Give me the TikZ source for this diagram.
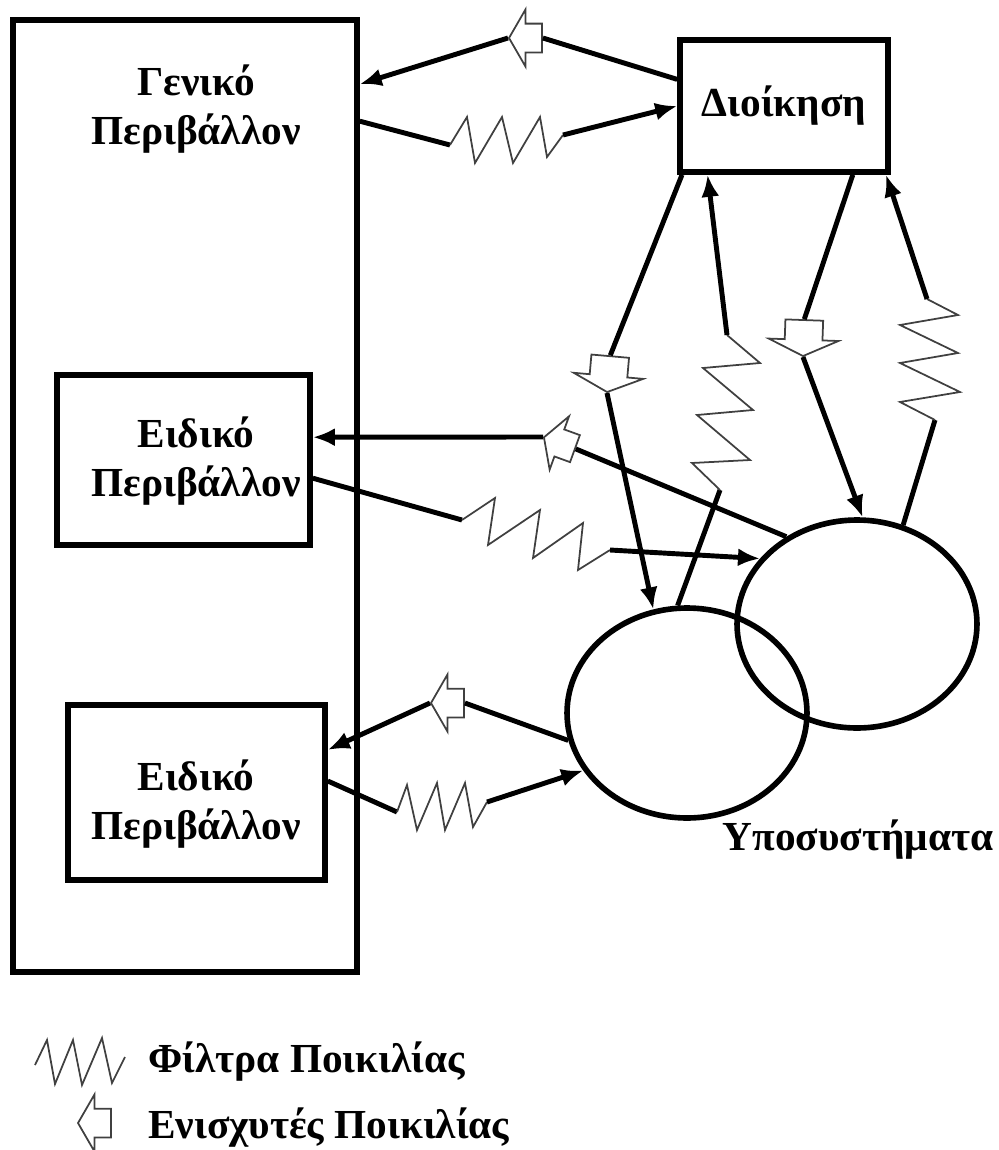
\documentclass[tikz,border=0pt]{standalone}
\usepackage{fontspec}
\setmainfont{Liberation Serif}
\usetikzlibrary{arrows.meta,shapes.geometric,shapes.arrows}

\tikzstyle{box}=[draw,rectangle,line width=3.2pt,inner sep=0pt]
\tikzstyle{subsys}=[draw,ellipse,line width=3.2pt,inner sep=0pt]
\tikzstyle{txt}=[font=\bfseries\fontsize{23.5}{27.5}\selectfont,align=center,inner sep=0pt]
\tikzstyle{link}=[draw,line width=2.8pt]
\tikzstyle{arr}=[-{Latex[length=4.4mm,width=3.6mm]}]
\tikzstyle{amp}=[single arrow,draw=black!75,line width=1pt,inner xsep=0pt,inner ysep=0.27cm,minimum height=0.66cm,single arrow head extend=0.28cm,single arrow tip angle=120]
\tikzstyle{bigamp}=[amp,inner ysep=0.36cm,minimum height=0.72cm,single arrow head extend=0.32cm,single arrow tip angle=130]
\tikzstyle{filter}=[draw=black!75,line width=1pt,line join=miter]

\begin{document}
\begin{tikzpicture}[x=0.02cm,y=-0.02cm]
    \useasboundingbox (0,0) rectangle (998,1150);
    % boxes and the two subsystems
    \node[box,minimum width=6.88cm,minimum height=19.04cm] (gen) at (185,496) {};
    \node[box,minimum width=5.06cm,minimum height=3.4cm] (eid1) at (183.5,460) {};
    \node[box,minimum width=5.14cm,minimum height=3.5cm] (eid2) at (196.5,792.5) {};
    \node[box,txt,minimum width=4.16cm,minimum height=2.64cm] (dio) at (784,106) {Διοίκηση};
    \node[subsys,minimum width=4.8cm,minimum height=4.16cm] (sub2) at (857,624) {};
    \node[subsys,minimum width=4.8cm,minimum height=4.2cm] (sub1) at (687,713) {};
    \node[txt] (gentxt) at (196,109) {Γενικό\\Περιβάλλον};
    \node[txt] (eid1txt) at (196,461) {Ειδικό\\Περιβάλλον};
    \node[txt] (eid2txt) at (196,804) {Ειδικό\\Περιβάλλον};
    \node[txt] (subtxt) at (858,840) {Υποσυστήματα};

    % amplifiers
    \node[amp,anchor=tip,rotate=180] (ampTop) at (508,38) {};
    \node[amp,anchor=tip,rotate=160] (ampMid) at (543,437) {};
    \node[amp,anchor=tip,rotate=180] (ampLow) at (430,703) {};
    \node[bigamp,anchor=tip,rotate=265] (ampA) at (607,393) {};
    \node[bigamp,anchor=tip,rotate=268] (ampB) at (803,357) {};

    % ends of the filters
    \coordinate (fTopA) at (450,145);
    \coordinate (fTopB) at (563,135);
    \coordinate (fCa) at (720,490);
    \coordinate (fCb) at (727,335);
    \coordinate (fDa) at (935,420);
    \coordinate (fDb) at (927,299);
    \coordinate (fEa) at (462,520);
    \coordinate (fEb) at (610,550);
    \coordinate (fFa) at (397,812);
    \coordinate (fFb) at (487,802);

    % links through the amplifiers
    \path[link] (dio.166) -- (ampTop.tail);
    \path[link,arr] (ampTop.tip) -- (gen.67);
    \path[link] (dio.214) -- (ampA.tail);
    \path[link,arr] (ampA.tip) -- (sub1.108);
    \path[link] (dio.315) -- (ampB.tail);
    \path[link,arr] (ampB.tip) -- (sub2.87);
    \path[link] (sub2.129) -- (ampMid.tail);
    \path[link,arr] (ampMid.tip) -- (eid1.10);
    \path[link] (sub1.193) -- (ampLow.tail);
    \path[link,arr] (ampLow.tip) -- (eid2.18);

    % links through the filters
    \path[link] (gen.65) -- (fTopA);
    \path[filter] (fTopA) -- (467,117) -- (475,163) -- (502,117) -- (513,163)
        -- (540,117) -- (547,157) -- (fTopB);
    \path[link,arr] (fTopB) -- (dio.west);
    \path[link] (sub1.95) -- (fCa);
    \path[filter] (fCa) -- (692,463) -- (750,460) -- (697,415) -- (753,410)
        -- (703,368) -- (760,363) -- (fCb);
    \path[link,arr] (fCb) -- (dio.222);
    \path[link] (sub2.65) -- (fDa);
    \path[filter] (fDa) -- (900,402) -- (960,392) -- (900,363) -- (958,353)
        -- (900,325) -- (958,315) -- (fDb);
    \path[link,arr] (fDb) -- (dio.326);
    \path[link] (eid1.352) -- (fEa);
    \path[filter] (fEa) -- (495,498) -- (488,545) -- (540,510) -- (533,558)
        -- (583,523) -- (578,570) -- (fEb);
    \path[link,arr] (fEb) -- (sub2.146);
    \path[link] (eid2.5) -- (fFa);
    \path[filter] (fFa) -- (407,785) -- (417,830) -- (437,783) -- (445,830)
        -- (465,783) -- (473,827) -- (fFb);
    \path[link,arr] (fFb) -- (sub1.209);

    % key
    \coordinate (keyA) at (35,1065);
    \coordinate (keyB) at (125,1057);
    \path[filter] (keyA) -- (47,1040) -- (55,1084) -- (73,1040) -- (82,1085)
        -- (102,1038) -- (112,1083) -- (keyB);
    \node[amp,anchor=tip,rotate=180] (ampKey) at (77,1123) {};
    \node[txt,anchor=west] (keyF) at (148,1062) {Φίλτρα Ποικιλίας};
    \node[txt,anchor=west] (keyE) at (148,1128) {Ενισχυτές Ποικιλίας};
\end{tikzpicture}
\end{document}
